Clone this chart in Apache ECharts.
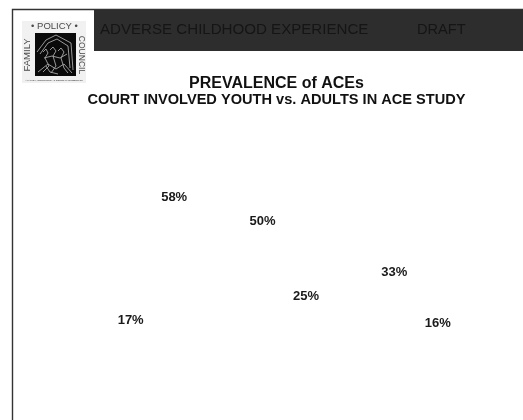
<!DOCTYPE html>
<html>
<head>
<meta charset="utf-8">
<style>html,body{margin:0;padding:0;background:#fff}#chart{width:523px;height:420px}</style>
<script src="https://cdn.jsdelivr.net/npm/echarts@6/dist/echarts.min.js"></script>
</head>
<body>
<div id="chart"></div>
<script>
// Prevalence of three ACE categories, paired bars per category
const categories = ['Category A', 'Category B', 'Category C'];
const courtInvolvedYouth = [17, 50, 33];
const aceStudyAdults = [58, 25, 16];

const chart = echarts.init(document.getElementById('chart'), null, { renderer: 'canvas' });

const FONT = '"Liberation Sans", Arial, sans-serif';

function valueSeries(name, values) {
  return {
    name,
    type: 'bar',
    data: values,
    barWidth: 43.5,
    barGap: 0,
    itemStyle: { color: 'rgba(0,0,0,0)' },
    label: {
      show: true,
      position: 'top',
      distance: 3,
      formatter: '{c}%',
      fontFamily: FONT,
      fontWeight: 'bold',
      fontSize: 13,
      color: '#1a1a1a'
    }
  };
}

// Family Policy Council badge: lettered border around a dark house emblem
const scribbles = [
  [[37, 52], [46, 40], [56, 35], [71, 43], [73, 70]],
  [[40, 54], [48, 43], [57, 39], [68, 46], [70, 68]],
  [[43, 52], [46, 49], [48, 53], [45, 58], [49, 66], [43, 72]],
  [[50, 50], [53, 47], [56, 51], [53, 56], [56, 66], [51, 73]],
  [[58, 51], [61, 48], [64, 52], [61, 58], [64, 68], [68, 73]],
  [[44, 58], [52, 56], [60, 58], [67, 54]],
  [[38, 72], [48, 64], [56, 69], [64, 64], [72, 73]],
  [[46, 66], [50, 72], [58, 74]]
];

const emblem = scribbles.map(points => ({
  type: 'polyline',
  shape: { points },
  style: { stroke: '#a8a8a8', lineWidth: 0.9, fill: null }
}));

const badgeText = (text, x, y, size, rotation, spacing, fill) => ({
  type: 'text',
  x, y, rotation,
  style: {
    text, fontFamily: FONT, fontSize: size, fill: fill || '#4a4a4a',
    align: 'center', verticalAlign: 'middle',
    letterSpacing: spacing
  }
});

chart.setOption({
  animation: false,
  backgroundColor: '#fff',
  grid: { left: 86.5, right: 41, top: 80.5, bottom: 39.5 },
  xAxis: {
    type: 'category',
    data: categories,
    show: false
  },
  yAxis: {
    type: 'value',
    min: 0,
    max: 100,
    show: false
  },
  title: {
    text: '{a|PREVALENCE of ACEs}\n{b|COURT INVOLVED YOUTH vs. ADULTS IN ACE STUDY}',
    left: 271.5,
    top: 70,
    textAlign: 'center',
    textStyle: {
      rich: {
        a: { fontFamily: FONT, fontWeight: 'bold', fontSize: 16, lineHeight: 17, color: '#111', align: 'center' },
        b: { fontFamily: FONT, fontWeight: 'bold', fontSize: 14.6, lineHeight: 16, color: '#111', align: 'center' }
      }
    }
  },
  graphic: [
    // Slide frame
    { type: 'rect', shape: { x: 12.5, y: 9.5, width: 520, height: 420 }, style: { fill: null, stroke: '#333', lineWidth: 1.4 } },
    // Header band
    { type: 'rect', shape: { x: 94, y: 10, width: 429, height: 41 }, style: { fill: '#2d2d2d' } },
    { type: 'text', x: 100, y: 30, style: { text: 'ADVERSE CHILDHOOD EXPERIENCE', fontFamily: FONT, fontSize: 15.1, fill: '#151515', verticalAlign: 'middle' } },
    { type: 'text', x: 417, y: 30, style: { text: 'DRAFT', fontFamily: FONT, fontSize: 14.6, fill: '#151515', verticalAlign: 'middle' } },
    // Badge
    { type: 'rect', shape: { x: 22, y: 21, width: 64, height: 62 }, style: { fill: '#f1f1f1' } },
    { type: 'rect', shape: { x: 35, y: 33, width: 41, height: 43 }, style: { fill: '#0a0a0a' } },
    badgeText('• POLICY •', 54.5, 26.5, 9.5, 0, 1.4),
    badgeText('FAMILY', 27, 55, 9.5, Math.PI / 2, 1.6),
    badgeText('COUNCIL', 81, 55, 8.5, -Math.PI / 2, 0.8),
    badgeText('A FAMILY, COMMUNITY & COURT PARTNERSHIP', 54, 80, 2.5, 0, 0, '#222'),
    ...emblem
  ],
  series: [
    valueSeries('Court involved youth', courtInvolvedYouth),
    valueSeries('Adults in ACE study', aceStudyAdults)
  ]
});
</script>
</body>
</html>
